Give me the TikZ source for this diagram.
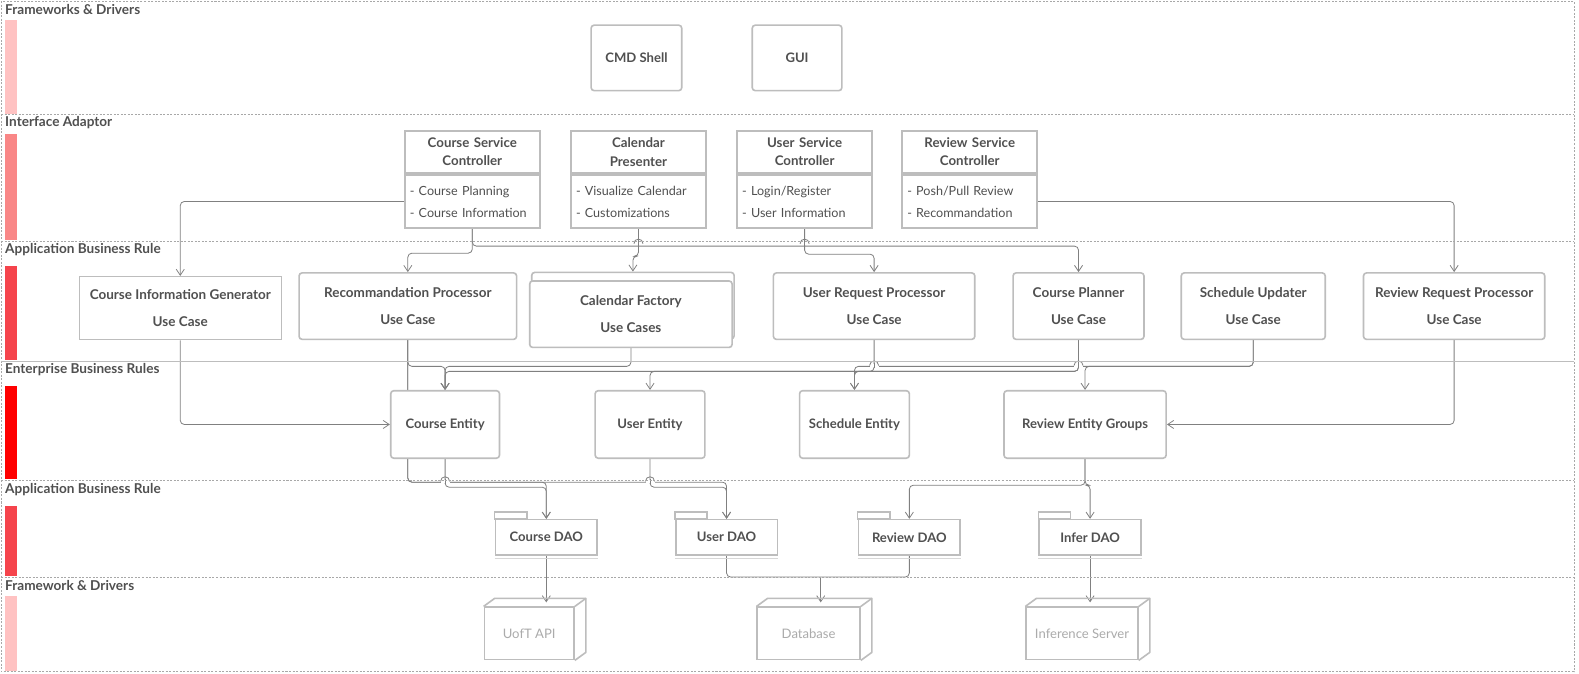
\documentclass[tikz,border=0pt]{standalone}
\usepackage{fontspec}
\setmainfont{Lato}
\usetikzlibrary{arrows.meta,positioning,calc,backgrounds}
\definecolor{textdark}{HTML}{505050}
\definecolor{textfaint}{HTML}{ABABAB}
\definecolor{boxline}{HTML}{BDBDBD}
\definecolor{wireline}{HTML}{808080}
\definecolor{laneline}{HTML}{A8A8A8}
\definecolor{bar-light}{HTML}{FFC2C2}
\definecolor{bar-mid}{HTML}{F98787}
\definecolor{bar-strong}{HTML}{F5444C}
\definecolor{bar-full}{HTML}{FF0000}

\tikzset{
  lanesep/.style={draw=laneline, line width=0.6pt, dash pattern=on 2pt off 1.5pt},
  lanetitle/.style={anchor=west, inner sep=0pt, text=textdark, font=\bfseries\fontsize{13.5}{15}\selectfont},
  box/.style={draw=boxline, line width=1.6pt, fill=white, text=textdark, inner sep=0pt, align=center, font=\bfseries\fontsize{13}{15}\selectfont},
  rbox/.style={box, rounded corners=3pt},
  usecase/.style={rbox, minimum height=66pt, font=\bfseries\fontsize{13.4}{27}\selectfont},
  plaincase/.style={usecase, sharp corners, line width=0.9pt, minimum height=63pt},
  ctrlhead/.style={box, inner xsep=5pt, minimum height=42pt, text width=124pt, font=\bfseries\fontsize{13.2}{18}\selectfont},
  ctrlbody/.style={box, inner xsep=5pt, minimum height=53pt, text width=124pt, align=left, font=\fontsize{12.5}{22}\selectfont},
  entity/.style={rbox, minimum height=67pt},
  dao/.style={box, minimum width=101pt, minimum height=35pt},
  server/.style={draw=boxline, line width=1.6pt, fill=white, text=textfaint, inner sep=0pt, minimum height=52pt, font=\fontsize{13}{15}\selectfont},
  serverline/.style={draw=boxline, line width=1.6pt, line join=round},
  wire/.style={draw=wireline, line width=0.8pt, rounded corners=4pt},
  flow/.style={wire, -{Straight Barb[length=6pt,width=8pt]}},
}

% small bump where a wire crosses another one
\newcommand{\linejump}[2]{%
  \fill[white] ({#1-4.5},{#2-1.2}) rectangle ({#1+4.5},{#2+1.2});
  \draw[wireline, line width=0.8pt] (#1,{#2-2.5}) -- (#1,{#2+2.5});
  \draw[wireline, line width=0.8pt] ({#1-4.5},#2) .. controls ({#1-4.5},{#2-6}) and ({#1+4.5},{#2-6}) .. ({#1+4.5},#2);
}

\begin{document}
\begin{tikzpicture}[x=1pt, y=-1pt]
  \useasboundingbox (0,0) rectangle (1568,669);

  % lanes
  \draw[lanesep] (1,1) rectangle (1563,667);
  \foreach \y in {114,240,477,573}
    \draw[lanesep] (1,\y) -- (1563,\y);
  \draw[boxline, line width=0.8pt] (1,359) -- (1563,359);
  \foreach \ytop/\ybot/\barcol in {20/113/bar-light, 133/238/bar-mid, 264/357/bar-strong, 383/476/bar-full, 502/572/bar-strong, 592/666/bar-light}
    \fill[\barcol] (5,\ytop) rectangle (17,\ybot);
  \node[lanetitle] (frameworks) at (5,9) {Frameworks \& Drivers};
  \node[lanetitle] (adaptor) at (5,122) {Interface Adaptor};
  \node[lanetitle] (apprule) at (5,248) {Application Business Rule};
  \node[lanetitle] (enterprise) at (5,367) {Enterprise Business Rules};
  \node[lanetitle] (daorule) at (5,486) {Application Business Rule};
  \node[lanetitle] (drivers) at (5,581) {Framework \& Drivers};

  % frameworks & drivers
  \node[rbox, minimum width=90pt, minimum height=65pt] (cmd) at (632,57.5) {CMD Shell};
  \node[rbox, minimum width=89pt, minimum height=65pt] (gui) at (791.5,57.5) {GUI};

  % interface adaptor
  \node[ctrlhead] (csch) at (469,151) {Course Service\\Controller};
  \node[ctrlbody, below=0pt of csch] (cscb) {- Course Planning\\- Course Information};
  \node[ctrlhead] (cprh) at (634,151) {Calendar\\Presenter};
  \node[ctrlbody, below=0pt of cprh] (cprb) {- Visualize Calendar\\- Customizations};
  \node[ctrlhead] (usch) at (799,151) {User Service\\Controller};
  \node[ctrlbody, below=0pt of usch] (uscb) {- Login/Register\\- User Information};
  \node[ctrlhead] (rsch) at (963,151) {Review Service\\Controller};
  \node[ctrlbody, below=0pt of rsch] (rscb) {- Posh/Pull Review\\- Recommandation};

  % use cases
  \node[plaincase, minimum width=200pt] (cig) at (179,306) {Course Information Generator\\Use Case};
  \node[usecase, minimum width=216pt] (rp) at (405,304) {Recommandation Processor\\Use Case};
  \node[usecase, minimum width=201pt] (cfb) at (628.5,303.5) {};
  \node[usecase, minimum width=201pt] (cf) at (626.5,312) {Calendar Factory\\Use Cases};
  \node[usecase, minimum width=200pt] (urp) at (868,304) {User Request Processor\\Use Case};
  \node[usecase, minimum width=130pt] (cp) at (1071,304) {Course Planner\\Use Case};
  \node[usecase, minimum width=143pt] (su) at (1244.5,304) {Schedule Updater\\Use Case};
  \node[usecase, minimum width=180pt] (rrp) at (1444,304) {Review Request Processor\\Use Case};

  % entities
  \node[entity, minimum width=108pt] (ce) at (442,421.5) {Course Entity};
  \node[entity, minimum width=109pt] (ue) at (645.5,421.5) {User Entity};
  \node[entity, minimum width=109pt] (se) at (848.5,421.5) {Schedule Entity};
  \node[entity, minimum width=161pt] (re) at (1077.5,421.5) {Review Entity Groups};

  % data access objects
  \foreach \dao/\x/\txt in {cdao/542.5/Course DAO, udao/721.5/User DAO, rdao/903/Review DAO, idao/1082.5/Infer DAO}{
    \node[dao] (\dao) at (\x,533.5) {\txt};
    \draw[boxline, line width=1.6pt] (\dao.north west) rectangle ++(32,-7);
    \draw[boxline!60, line width=1pt] ([yshift=-2.5pt]\dao.south west) -- ([yshift=-2.5pt]\dao.south east);
  }

  % external services
  \foreach \srv/\x/\w/\txt in {api/525.5/89/UofT API, db/803/102/Database, inf/1074.5/111/Inference Server}{
    \node[server, minimum width=\w pt] (\srv) at (\x,629) {\txt};
    \draw[serverline] (\srv.north west) -- ++(11,-8) -| ($(\srv.south east)+(11,-8)$) -- (\srv.south east);
    \draw[serverline] (\srv.north east) -- ++(11,-8);
    \coordinate (\srv-top) at ($(\srv.north)+(0,-4)$);
  }

  \begin{scope}[on background layer]
    \fill[white] (0,0) rectangle (1568,669);
    % adaptor -> use cases
    \draw[flow] (cscb.west) -| (cig.north);
    \draw[flow] (cscb.south) -- ++(0,24) -| (rp.north);
    \draw[flow] (cscb.south) -- ++(0,17) -| (cp.north);
    \draw[flow] (cprb.south) -- ++(0,27) -| (cfb.north);
    \draw[flow] (uscb.south) -- ++(0,25) -| (urp.north);
    \draw[flow] (rscb.east) -| (rrp.north);
    \linejump{634}{242}
    \linejump{799}{242}
    % use cases -> entities
    \draw[flow] (cig.south) |- (ce.west);
    \draw[flow] (rrp.south) |- (re.east);
    \draw[flow] (rp.south) -- ++(0,26) -| (ce.north);
    \draw[flow] (cf.south) -- ++(0,18) -| (ce.north);
    \draw[flow] (urp.south) -- ++(0,31) -| (ue.north);
    \draw[flow] (cp.south) -- ++(0,31) -| (ce.north);
    \draw[flow] (cp.south) -- ++(0,31) -| (se.north);
    \draw[flow] (su.south) -- ++(0,26) -| (se.north);
    \draw[flow] (su.south) -- ++(0,26) -| (re.north);
    \linejump{868}{363}
    \linejump{1071}{363}
    % entities -> dao
    \draw[flow] (rp.south) -- ++(0,141) -| (cdao.north);
    \draw[flow] (rp.south) -- ++(0,141) -| (udao.north);
    \draw[flow] (ce.south) -- ++(0,28) -| (cdao.north);
    \draw[flow] (ue.south) -- ++(0,28) -| (udao.north);
    \draw[flow] (re.south) -- ++(0,26) -| (rdao.north);
    \draw[flow] (re.south) -- ++(0,26) -| (idao.north);
    \linejump{442}{478}
    \linejump{645.5}{478}
    % dao -> services
    \coordinate (dbin) at (815,573);
    \draw[wire] (udao.south) |- (dbin);
    \draw[wire] (rdao.south) |- (dbin);
    \draw[flow] (dbin) -- (dbin |- db-top);
    \draw[flow] (cdao.south) -- (cdao.south |- api-top);
    \draw[flow] (idao.south) -- (idao.south |- inf-top);
  \end{scope}
\end{tikzpicture}
\end{document}
